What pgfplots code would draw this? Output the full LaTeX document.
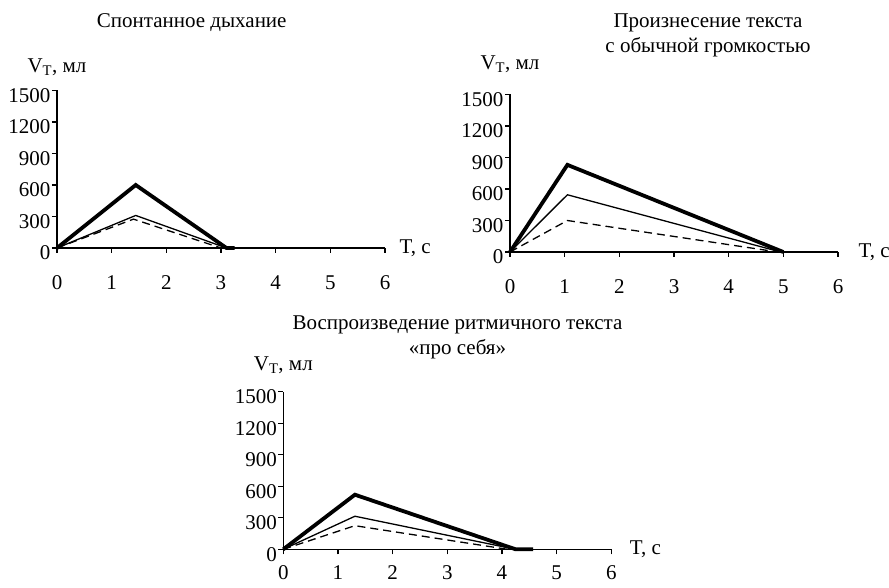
\documentclass[border=0pt]{standalone}
\usepackage{fontspec}
\setmainfont{Liberation Serif}
\usepackage{pgfplots}
\pgfplotsset{compat=1.18}
\newcommand{\fs}{\fontsize{21}{25}\selectfont}
\pgfplotsset{
  myax/.style={
    scale only axis, width=328pt, height=157.5pt,
    xmin=0, xmax=6, ymin=0, ymax=1500,
    axis x line=bottom, axis y line=left,
    axis line style={-, line width=1.2pt, black},
    xtick={0,1,2,3,4,5,6}, ytick={0,300,600,900,1200,1500},
    tick align=outside, major tick length=5pt,
    tick style={black, line width=1.1pt},
    /pgf/number format/assume math mode=true,
    /pgf/number format/set thousands separator={},
    ticklabel style={font=\fs},
    yticklabel style={yshift=-5pt, xshift=2pt},
    clip=false,
  },
  thickl/.style={black, line width=3.8pt, line join=miter},
  thinl/.style={black, line width=1.3pt},
  dashl/.style={black, line width=1.3pt, dash pattern=on 8pt off 5pt},
}
\begin{document}
\begin{tikzpicture}
\useasboundingbox (0,0) rectangle (889pt,587pt);
% Plot 1
\begin{axis}[myax, at={(57pt,339pt)}, anchor=south west, xticklabel style={yshift=-19pt}]
\addplot[thickl] coordinates {(0,0) (1.44,600) (3.1,0) (3.25,0)};
\addplot[thinl] coordinates {(0,0) (1.44,310) (3.1,0)};
\addplot[dashl] coordinates {(0,0) (1.40,275) (3.0,0)};
\node[font=\fs] at (rel axis cs:0,1) [yshift=23pt] {V\textsubscript{T}, мл};
\node[font=\fs, anchor=west] at (rel axis cs:1,0) [xshift=11pt] {T, с};
\end{axis}
\node[font=\fs] at (191.7pt,564pt) {Спонтанное дыхание};
% Plot 2
\begin{axis}[myax, at={(510pt,335pt)}, anchor=south west, xticklabel style={yshift=-19pt}]
\addplot[thickl] coordinates {(0,0) (1.05,830) (5.0,0)};
\addplot[thinl] coordinates {(0,0) (1.05,545) (4.95,0)};
\addplot[dashl] coordinates {(0,0) (1.05,300) (4.9,0)};
\node[font=\fs] at (rel axis cs:0,1) [yshift=30pt] {V\textsubscript{T}, мл};
\node[font=\fs, anchor=west] at (rel axis cs:1,0) [xshift=17pt] {T, с};
\end{axis}
\node[font=\fs, align=center] at (708pt,552pt) {Произнесение текста\\с обычной громкостью};
% Plot 3
\begin{axis}[myax, at={(283.3pt,37.7pt)}, anchor=south west, xticklabel style={yshift=-8pt}]
\addplot[thickl] coordinates {(0,0) (1.31,520) (4.25,0) (4.57,0)};
\addplot[thinl] coordinates {(0,0) (1.31,315) (4.2,5) (4.5,5)};
\addplot[dashl] coordinates {(0,0) (1.31,225) (4.1,0)};
\node[font=\fs] at (rel axis cs:0,1) [yshift=27pt] {V\textsubscript{T}, мл};
\node[font=\fs, anchor=west] at (rel axis cs:1,0) [xshift=15pt] {T, с};
\end{axis}
\node[font=\fs, align=center] at (457.5pt,249.5pt) {Воспроизведение ритмичного текста\\«про себя»};
\end{tikzpicture}
\end{document}
